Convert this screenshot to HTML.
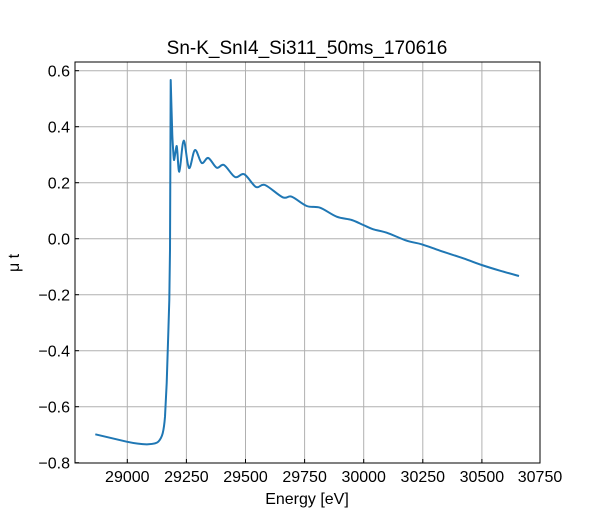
<!DOCTYPE html>
<html><head><meta charset="utf-8"><style>body{margin:0;background:#fff}</style></head><body>
<svg width="600" height="520" xmlns="http://www.w3.org/2000/svg" font-family="Liberation Sans, DejaVu Sans, sans-serif">
<rect width="600" height="520" fill="#fff"/>
<g stroke="#b0b0b0" stroke-width="1">
<line x1="127.3" y1="62" x2="127.3" y2="463"/><line x1="186.4" y1="62" x2="186.4" y2="463"/><line x1="245.5" y1="62" x2="245.5" y2="463"/><line x1="304.6" y1="62" x2="304.6" y2="463"/><line x1="363.7" y1="62" x2="363.7" y2="463"/><line x1="422.8" y1="62" x2="422.8" y2="463"/><line x1="481.9" y1="62" x2="481.9" y2="463"/>
<line x1="75" y1="70.7" x2="540" y2="70.7"/><line x1="75" y1="126.7" x2="540" y2="126.7"/><line x1="75" y1="182.7" x2="540" y2="182.7"/><line x1="75" y1="238.7" x2="540" y2="238.7"/><line x1="75" y1="294.7" x2="540" y2="294.7"/><line x1="75" y1="350.7" x2="540" y2="350.7"/><line x1="75" y1="406.7" x2="540" y2="406.7"/>
</g>
<path id="curve" d="" fill="none" stroke="#1f77b4" stroke-width="2" stroke-linejoin="round"/>
<rect x="75" y="62" width="465" height="401" fill="none" stroke="#000" stroke-width="1"/>
<g stroke="#000">
<line x1="127.3" y1="463" x2="127.3" y2="459"/><line x1="186.4" y1="463" x2="186.4" y2="459"/><line x1="245.5" y1="463" x2="245.5" y2="459"/><line x1="304.6" y1="463" x2="304.6" y2="459"/><line x1="363.7" y1="463" x2="363.7" y2="459"/><line x1="422.8" y1="463" x2="422.8" y2="459"/><line x1="481.9" y1="463" x2="481.9" y2="459"/><line x1="540" y1="463" x2="540" y2="459"/>
<line x1="75" y1="70.7" x2="79" y2="70.7"/><line x1="75" y1="126.7" x2="79" y2="126.7"/><line x1="75" y1="182.7" x2="79" y2="182.7"/><line x1="75" y1="238.7" x2="79" y2="238.7"/><line x1="75" y1="294.7" x2="79" y2="294.7"/><line x1="75" y1="350.7" x2="79" y2="350.7"/><line x1="75" y1="406.7" x2="79" y2="406.7"/><line x1="75" y1="462.7" x2="79" y2="462.7"/>
</g>
<g font-size="16" text-anchor="middle" fill="#000">
<text x="127.3" y="482">29000</text><text x="186.4" y="482">29250</text><text x="245.5" y="482">29500</text><text x="304.6" y="482">29750</text><text x="363.7" y="482">30000</text><text x="422.8" y="482">30250</text><text x="481.9" y="482">30500</text><text x="540" y="482">30750</text>
</g>
<g font-size="16" text-anchor="end" fill="#000">
<text x="70" y="76.5">0.6</text><text x="70" y="132.5">0.4</text><text x="70" y="188.5">0.2</text><text x="70" y="244.5">0.0</text><text x="70" y="300.5">−0.2</text><text x="70" y="356.5">−0.4</text><text x="70" y="412.5">−0.6</text><text x="70" y="468.5">−0.8</text>
</g>
<text x="307" y="504" font-size="16" text-anchor="middle">Energy [eV]</text>
<text transform="translate(19,263) rotate(-90)" font-size="16" text-anchor="middle">μ t</text>
<text x="307" y="54" font-size="19" text-anchor="middle">Sn-K_SnI4_Si311_50ms_170616</text>
</svg>
<script>
var lin=[[95.3,434.3],[126.7,441.7]];
var pre="M95.3,434.3 L126.7,441.7 C135,443.5 142,444.5 148.3,444.3 C154,444 157,443 158.3,441.7 C161,439 162,436 162.7,433.3 C164,428 164.5,423 165,416.7 L166.7,383 L168.3,333 L169.3,300 L170,250 L170.7,80 ";
var p=[[170.7,80],[172.3,135],[174,160],[176.7,146],[179.3,171.7],[183.7,140.7],[189,168],[195,150],[201.7,163],[208.3,158],[216.7,167.7],[224,165],[235,177],[244.3,174.3],[256,187],[265,185],[282.7,197.3],[291.7,196.7],[306.7,206],[320,207.7],[336.7,216.7],[351.7,220],[363.3,225],[373.3,229.3],[386.7,232.7],[406.7,240.7],[421.7,244.3],[440,250.7],[463.3,258.3],[481.7,265],[500,270.7],[519,276]];
var d=pre;
for(var i=0;i<p.length-1;i++){var p0=p[Math.max(i-1,0)],p1=p[i],p2=p[i+1],p3=p[Math.min(i+2,p.length-1)];
var t=i<3?0.08:1/6;
var c1=[p1[0]+(p2[0]-p0[0])*t,p1[1]+(p2[1]-p0[1])*t],c2=[p2[0]-(p3[0]-p1[0])*t,p2[1]-(p3[1]-p1[1])*t];
d+="C"+c1+" "+c2+" "+p2+" ";}
document.getElementById("curve").setAttribute("d",d);
</script>
</body></html>
